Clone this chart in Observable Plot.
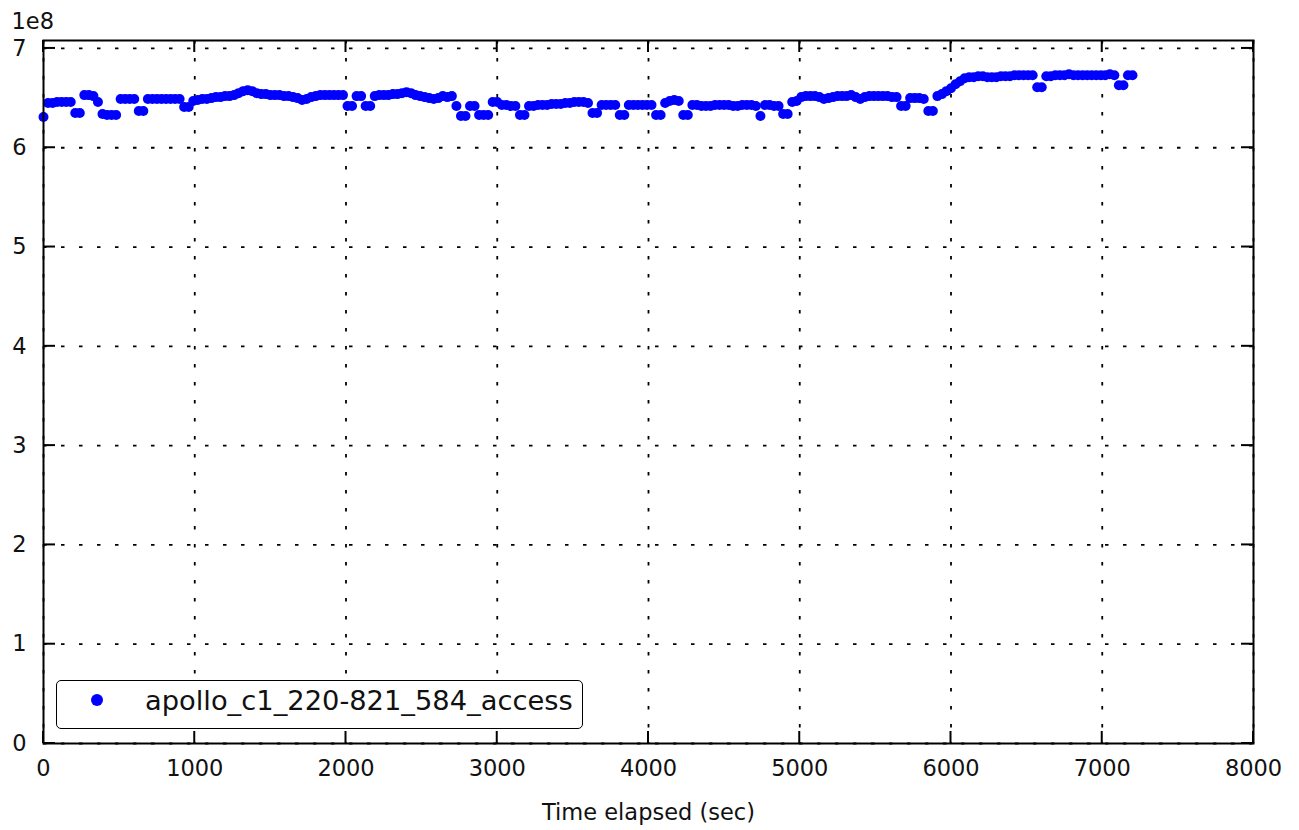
<!DOCTYPE html>
<html><head><meta charset="utf-8">
<script src="https://cdn.jsdelivr.net/npm/d3@7"></script>
<script src="https://cdn.jsdelivr.net/npm/@observablehq/plot@0.6"></script>
<style>
body{margin:0;background:#fff;font-family:"DejaVu Sans",sans-serif;}
#wrap{position:relative;width:1299px;height:830px;}
#legend{position:absolute;left:56px;top:680px;width:527px;height:49px;border:1.6px solid #000;border-radius:5px;background:#fff;box-sizing:border-box;font-family:"DejaVu Sans";font-size:27.3px;color:#111;}
#legend .mk{position:absolute;left:34px;top:13px;width:12px;height:12px;border-radius:50%;background:#0000ff;}
#legend .lb{position:absolute;left:88px;top:4px;white-space:nowrap;}
</style></head><body><div id="wrap"></div>
<script>
const seriesName = "apollo_c1_220-821_584_access";
const xLabel = "Time elapsed (sec)";
const yOffsetText = "1e8";
const sampleStepSec = 30;
const accessValues1e8 = [
  6.31,
  6.45, 6.45, 6.46, 6.46, 6.46, 6.46,
  6.35, 6.35,
  6.53, 6.53, 6.52,
  6.46,
  6.34, 6.33, 6.33, 6.33,
  6.49, 6.49, 6.49, 6.49,
  6.37, 6.37,
  6.49, 6.49, 6.49, 6.49, 6.49, 6.49, 6.49, 6.49,
  6.41, 6.41,
  6.47, 6.48, 6.49, 6.49, 6.50, 6.51, 6.51, 6.52, 6.52,
  6.53, 6.55, 6.57, 6.58, 6.57, 6.55,
  6.54, 6.54, 6.53, 6.53, 6.53, 6.52, 6.52, 6.51, 6.50,
  6.48,
  6.49, 6.51, 6.52, 6.53, 6.53, 6.53, 6.53, 6.53, 6.53,
  6.42, 6.42,
  6.52, 6.52,
  6.42, 6.42,
  6.52, 6.53, 6.53, 6.53, 6.54, 6.54, 6.55, 6.56, 6.55,
  6.53, 6.52, 6.51, 6.50, 6.49, 6.50,
  6.52, 6.51, 6.52,
  6.42,
  6.32, 6.32,
  6.42, 6.42,
  6.33, 6.33, 6.33,
  6.46, 6.46,
  6.43, 6.43, 6.42, 6.42,
  6.33, 6.33,
  6.42, 6.42, 6.43, 6.43, 6.43, 6.44, 6.44, 6.44, 6.45, 6.45, 6.46, 6.46, 6.46, 6.45,
  6.35, 6.35,
  6.43, 6.43, 6.43, 6.43,
  6.33, 6.33,
  6.43, 6.43, 6.43, 6.43, 6.43, 6.43,
  6.33, 6.33,
  6.45, 6.47, 6.48, 6.47,
  6.33, 6.33,
  6.43, 6.43, 6.42, 6.42, 6.42, 6.43, 6.43, 6.43, 6.43, 6.42, 6.42, 6.43, 6.43, 6.43, 6.42,
  6.32,
  6.43, 6.43, 6.42, 6.42,
  6.34, 6.34,
  6.46, 6.47,
  6.51, 6.52, 6.52, 6.52, 6.51, 6.49, 6.50, 6.51, 6.52, 6.52, 6.52, 6.53, 6.51, 6.49, 6.51, 6.52, 6.52, 6.52, 6.52, 6.52, 6.51, 6.51,
  6.42, 6.42,
  6.50, 6.50, 6.50, 6.49,
  6.37, 6.37,
  6.52, 6.54, 6.57, 6.60, 6.64, 6.67, 6.70, 6.71,
  6.71, 6.72, 6.72, 6.71, 6.71, 6.71, 6.72, 6.72, 6.72, 6.73, 6.73, 6.73, 6.73, 6.73,
  6.61, 6.61,
  6.72, 6.72, 6.73, 6.73, 6.73, 6.74, 6.73, 6.73, 6.73, 6.73, 6.73, 6.73, 6.73, 6.73, 6.74, 6.73,
  6.63, 6.63,
  6.73, 6.73
];
const xTicks = [0, 1000, 2000, 3000, 4000, 5000, 6000, 7000, 8000];
const yTicks = [0, 1, 2, 3, 4, 5, 6, 7];

const data = accessValues1e8.map((v, i) => ({t: i * sampleStepSec, v: v * 1e8}));
const yTickVals = yTicks.map(d => d * 1e8);

const grid = {stroke: "#000", strokeOpacity: 1, strokeWidth: 1.8, strokeDasharray: "3.5,14.5"};
const chart = Plot.plot({
  width: 1299, height: 830,
  marginLeft: 43, marginRight: 46, marginTop: 40, marginBottom: 87,
  style: {fontFamily: "DejaVu Sans", fontSize: "22.5px", color: "#111", background: "#fff"},
  x: {domain: [0, 8000]},
  y: {domain: [0, 7.08e8]},
  marks: [
    Plot.gridX(xTicks, grid),
    Plot.gridY(yTickVals, grid),
    Plot.dot(data, {x: "t", y: "v", r: 5, fill: "#0000ff", stroke: "none"}),
    Plot.frame({stroke: "#000", strokeWidth: 2}),
    Plot.axisX(xTicks, {tickSize: 0, tickPadding: 17, label: null, fontSize: 22.5, tickFormat: d => String(d)}),
    Plot.axisY(yTickVals, {tickSize: 0, tickPadding: 17, label: null, fontSize: 22.5, tickFormat: d => String(d / 1e8)}),
    Plot.text([xLabel], {frameAnchor: "bottom", dy: 76, fontSize: 22.5, fill: "#111"}),
    Plot.text([yOffsetText], {frameAnchor: "top-left", textAnchor: "start", dx: -32, dy: -27, fontSize: 22.5, fill: "#111"})
  ]
});
document.getElementById("wrap").appendChild(chart);

// inward ticks on all four sides, positioned with the chart's own scales
const sx = chart.scale("x"), sy = chart.scale("y");
const svg = d3.select(chart);
const L = 43, R = 1299 - 46, T = 40, B = 830 - 87, tl = 12;
const g = svg.append("g").attr("stroke", "#000").attr("stroke-width", 2);
xTicks.forEach(d => {
  const x = sx.apply(d);
  g.append("line").attr("x1", x).attr("x2", x).attr("y1", B).attr("y2", B - tl);
  g.append("line").attr("x1", x).attr("x2", x).attr("y1", T).attr("y2", T + tl);
});
yTickVals.forEach(d => {
  const y = sy.apply(d);
  g.append("line").attr("y1", y).attr("y2", y).attr("x1", L).attr("x2", L + tl);
  g.append("line").attr("y1", y).attr("y2", y).attr("x1", R).attr("x2", R - tl);
});

const lg = document.createElement("div");
lg.id = "legend";
lg.innerHTML = `<div class="mk"></div><div class="lb"></div>`;
lg.querySelector(".lb").textContent = seriesName;
document.getElementById("wrap").appendChild(lg);
</script>
</body></html>
